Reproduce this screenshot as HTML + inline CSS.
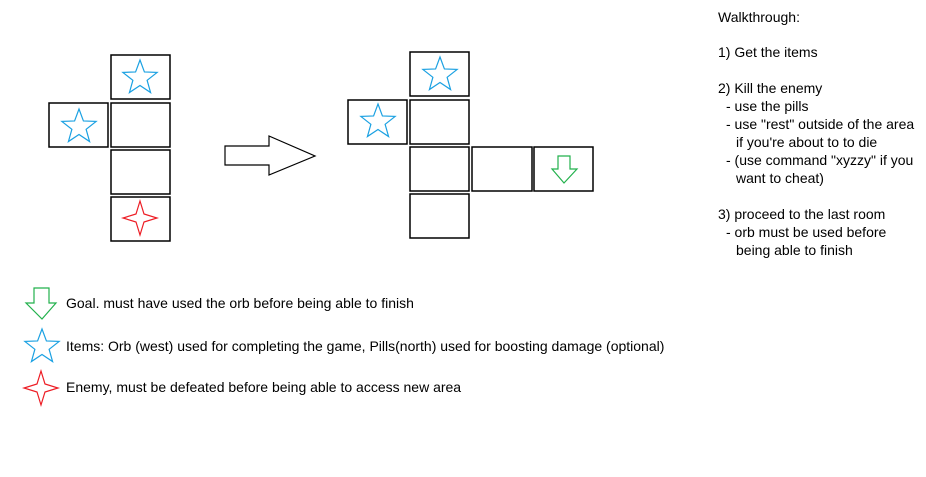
<!DOCTYPE html>
<html><head><meta charset="utf-8"><style>
html,body{margin:0;padding:0;background:#fff;}
svg{display:block;}
text{font-family:"Liberation Sans",sans-serif;font-size:14px;fill:#000;}
</style></head><body>
<svg width="926" height="477" viewBox="0 0 926 477" xmlns="http://www.w3.org/2000/svg">
<defs>
<polygon id="st" points="0,-18 4.41,-6.07 17.12,-5.56 7.13,2.32 10.58,14.56 0,7.5 -10.58,14.56 -7.13,2.32 -17.12,-5.56 -4.41,-6.07" fill="none" stroke="#1ba1e2" stroke-width="1.2"/>
<polygon id="en" points="0,-17 4,-4 17,0 4,4 0,17 -4,4 -17,0 -4,-4" fill="none" stroke="#ed1c24" stroke-width="1.2"/>
</defs>
<g fill="none" stroke="#000" stroke-width="1.5">
<rect x="111" y="55" width="59" height="44"/>
<rect x="49" y="103" width="59" height="44"/>
<rect x="111" y="103" width="59" height="44"/>
<rect x="111" y="150" width="59" height="44"/>
<rect x="111" y="197" width="59" height="44"/>
<polygon points="225,146 269,146 269,136 315,156 269,175 269,165 225,165" stroke-width="1.2"/>
<rect x="410" y="52" width="59" height="44"/>
<rect x="348" y="100" width="59" height="44"/>
<rect x="410" y="100" width="59" height="44"/>
<rect x="410" y="147" width="59" height="44"/>
<rect x="472" y="147" width="60" height="44"/>
<rect x="534" y="147" width="59" height="44"/>
<rect x="410" y="194" width="59" height="44"/>
</g>
<use href="#st" x="140" y="78"/>
<use href="#st" x="79" y="127"/>
<use href="#st" x="440" y="75"/>
<use href="#st" x="378" y="122"/>
<use href="#st" x="42" y="347"/>
<use href="#en" x="140" y="218"/>
<use href="#en" x="41" y="388"/>
<polygon points="558,156 570,156 570,169 577,169 564,183 552,169 558,169" fill="none" stroke="#22b14c" stroke-width="1.2"/>
<polygon points="34,288 49,288 49,303 56,303 42,319 26,303 34,303" fill="none" stroke="#22b14c" stroke-width="1.2"/>
<text x="66" y="308">Goal. must have used the orb before being able to finish</text>
<text x="66" y="351">Items: Orb (west) used for completing the game, Pills(north) used for boosting damage (optional)</text>
<text x="66" y="392">Enemy, must be defeated before being able to access new area</text>
<g>
<text x="718" y="22">Walkthrough:</text>
<text x="718" y="57">1) Get the items</text>
<text x="718" y="93">2) Kill the enemy</text>
<text x="726" y="111">- use the pills</text>
<text x="726" y="129">- use "rest" outside of the area</text>
<text x="736" y="147">if you're about to to die</text>
<text x="726" y="165">- (use command "xyzzy" if you</text>
<text x="736" y="183">want to cheat)</text>
<text x="718" y="219">3) proceed to the last room</text>
<text x="726" y="237">- orb must be used before</text>
<text x="736" y="255">being able to finish</text>
</g>
</svg>
</body></html>
